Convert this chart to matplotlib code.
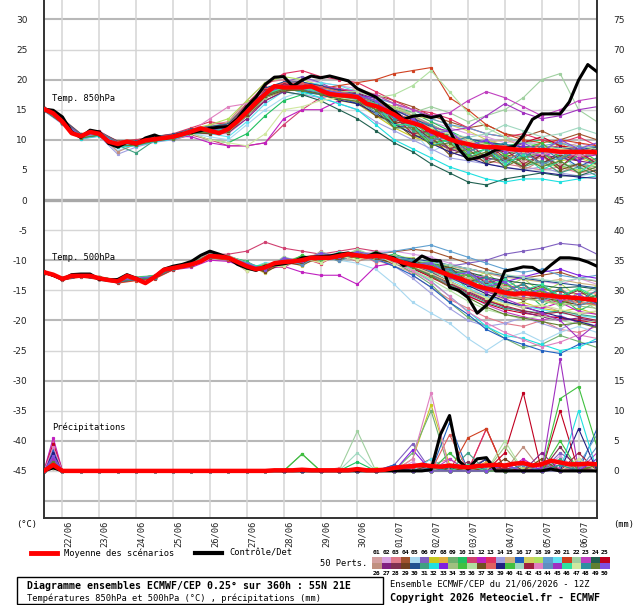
import matplotlib
matplotlib.use("Agg")
import matplotlib.pyplot as plt
import matplotlib.transforms as mtrans
from matplotlib.patches import Rectangle
from matplotlib.lines import Line2D

W, H = 640, 605

# ---------------- data ----------------
hours6 = list(range(0, 361, 6))
hours12 = list(range(0, 361, 12))
p_hours = [0, 6] + list(range(12, 361, 12))

day_hours = [12, 36, 60, 84, 108, 132, 156, 180, 204, 228, 252, 276, 300, 324, 348]
day_labels = ["22/06", "23/06", "24/06", "25/06", "26/06", "27/06", "28/06", "29/06",
              "30/06", "01/07", "02/07", "03/07", "04/07", "05/07", "06/07"]

t850_mean = [15.1, 14.4, 13.0, 11.1, 10.6, 11.3, 11.0, 9.7, 9.3, 9.7, 9.4, 9.9, 10.1, 10.3, 10.5,
             10.9, 11.4, 11.9, 11.5, 11.1, 11.8, 13.1, 14.6, 16.2, 17.6, 18.9, 18.7, 18.7, 18.7,
             18.9, 18.2, 17.6, 17.4, 17.3, 17.1, 16.0, 15.6, 14.9, 14.2, 13.2, 12.8, 12.3, 11.4,
             10.8, 10.1, 9.6, 9.3, 8.9, 8.8, 8.8, 8.6, 8.4, 8.3, 8.3, 8.3, 8.2, 8.0, 8.0, 8.0,
             8.0, 7.9]
t850_ctrl = [15.1, 14.9, 13.8, 11.3, 10.4, 11.6, 11.3, 9.4, 8.8, 9.6, 9.3, 10.3, 10.8, 10.2, 10.6,
             11.0, 11.2, 11.5, 11.9, 12.1, 12.2, 13.5, 15.5, 17.1, 19.2, 20.4, 20.5, 18.9, 19.9,
             20.6, 20.3, 20.6, 20.2, 19.8, 18.5, 17.8, 17.1, 15.9, 14.7, 13.4, 13.9, 14.1, 13.7,
             14.0, 11.6, 8.5, 6.7, 7.0, 7.5, 8.3, 8.6, 8.9, 10.7, 13.4, 14.3, 14.3, 14.3, 16.3,
             19.9, 22.5, 21.3]
t500_mean = [-12.0, -12.4, -13.1, -12.6, -12.6, -12.6, -13.0, -13.3, -13.5, -12.6, -13.1, -13.8,
             -12.8, -11.6, -11.3, -11.0, -10.7, -10.2, -9.3, -9.4, -9.6, -10.3, -11.0, -11.5,
             -11.2, -10.5, -10.3, -10.2, -10.0, -9.6, -9.6, -9.6, -9.3, -9.0, -9.2, -9.4, -9.3,
             -9.4, -9.9, -10.4, -10.8, -11.0, -11.3, -11.9, -12.5, -13.0, -13.6, -14.3, -14.7,
             -15.0, -15.4, -15.6, -15.5, -15.6, -15.8, -15.9, -16.1, -16.2, -16.3, -16.5, -16.6]
t500_ctrl = [-12.0, -12.5, -13.2, -12.4, -12.3, -12.3, -13.2, -13.3, -13.2, -12.4, -13.0, -13.8,
             -12.8, -11.5, -11.0, -10.7, -10.2, -9.2, -8.5, -9.0, -9.6, -10.7, -11.3, -11.7,
             -11.0, -10.8, -10.6, -10.3, -9.6, -9.5, -9.4, -9.3, -9.0, -8.8, -9.2, -9.4, -8.8,
             -9.3, -9.6, -10.9, -10.5, -9.3, -10.0, -10.1, -14.5, -15.0, -16.2, -18.8, -17.5,
             -15.5, -11.8, -11.5, -11.1, -11.2, -12.1, -10.8, -9.6, -9.6, -9.8, -10.3, -11.0]
pr_mean = [0, 1.0, 0, 0, 0, 0, 0, 0, 0, 0, 0, 0, 0, 0, 0, 0, 0, 0, 0, 0, 0, 0, 0, 0, 0, 0.1,
           0.1, 0.1, 0.2, 0.1, 0.1, 0.1, 0.1, 0.1, 0.3, 0.1, 0.1, 0.2, 0.5, 0.7, 0.8, 1.0, 0.8,
           0.7, 0.9, 0.7, 0.6, 0.8, 0.9, 1.0, 0.9, 1.2, 1.3, 0.9, 1.1, 1.7, 1.4, 1.1, 1.1, 1.2, 1.1]
pr_ctrl = [0, 0.5, 0, 0, 0, 0, 0, 0, 0, 0, 0, 0, 0, 0, 0, 0, 0, 0, 0, 0, 0, 0, 0, 0, 0, 0,
           0, 0, 0, 0, 0, 0, 0, 0, 0, 0, 0, 0, 0, 0, 0, 0, 0.2, 6.0, 9.2, 1.7, 0.3, 2.0, 2.2,
           0, 0, 0, 0, 0, 0, 0.3, 0, 0, 0, 0, 0]

t850_members = [
    [15.0, 13.2, 10.4, 11.2, 9.0, 9.6, 10.3, 10.8, 11.0, 12.0, 12.5, 15.5, 18.5, 19.5, 19.0, 18.0, 17.5, 16.0, 14.0, 12.5, 11.0, 10.0, 9.0, 8.5, 7.5, 7.0, 6.5, 7.0, 6.0, 5.5, 6.5],
    [15.2, 12.8, 10.8, 11.5, 9.5, 9.2, 10.0, 10.6, 11.8, 11.0, 11.0, 13.5, 17.0, 19.0, 20.0, 19.5, 19.0, 18.5, 17.0, 16.0, 14.5, 13.0, 12.0, 11.0, 10.5, 9.5, 10.0, 9.0, 8.5, 9.5, 8.5],
    [14.8, 13.0, 10.2, 10.8, 9.0, 9.0, 9.8, 10.2, 11.2, 12.5, 13.0, 16.5, 19.5, 20.0, 19.5, 18.5, 18.0, 17.5, 15.0, 13.0, 11.5, 9.5, 8.0, 7.0, 6.5, 6.0, 5.5, 5.0, 5.5, 4.5, 5.0],
    [15.3, 13.5, 11.0, 11.3, 9.8, 10.0, 10.5, 10.9, 11.5, 11.5, 12.0, 14.0, 16.5, 18.0, 18.5, 19.0, 18.5, 18.0, 17.5, 16.5, 15.5, 14.0, 13.0, 12.0, 12.5, 11.0, 10.5, 11.5, 10.0, 11.0, 10.0],
    [14.9, 12.7, 10.5, 10.9, 8.2, 9.3, 10.2, 10.4, 11.0, 10.5, 10.0, 12.5, 15.0, 17.0, 18.0, 18.5, 17.0, 16.5, 14.5, 12.0, 11.5, 8.0, 9.5, 6.5, 8.0, 6.0, 8.5, 5.5, 7.5, 5.0, 7.0],
    [15.1, 13.1, 10.7, 11.1, 9.4, 9.7, 10.0, 10.3, 11.3, 11.8, 12.2, 15.0, 18.0, 19.5, 20.5, 19.5, 18.0, 17.5, 16.5, 15.0, 13.5, 12.5, 11.0, 10.0, 9.5, 9.0, 8.0, 8.5, 8.0, 7.0, 8.0],
    [15.0, 13.0, 10.9, 10.7, 9.1, 9.5, 10.4, 10.7, 11.6, 11.3, 11.5, 14.0, 17.5, 18.5, 18.0, 17.5, 16.5, 16.0, 14.0, 12.0, 10.5, 9.5, 8.5, 8.0, 7.5, 7.5, 7.0, 7.5, 6.5, 7.0, 6.0],
    [15.2, 12.9, 10.3, 11.2, 9.6, 9.0, 9.7, 10.5, 11.4, 11.7, 11.8, 14.5, 17.0, 18.5, 19.0, 18.0, 17.0, 17.5, 16.0, 13.5, 14.0, 10.0, 11.5, 8.0, 9.5, 6.5, 9.0, 7.0, 9.5, 7.5, 8.5],
    [15.0, 13.3, 10.6, 11.0, 9.2, 9.8, 10.6, 10.9, 11.7, 12.2, 12.8, 16.0, 18.5, 19.0, 19.5, 19.0, 18.0, 16.5, 15.5, 13.5, 12.0, 10.5, 9.5, 8.0, 7.5, 6.5, 6.0, 6.5, 5.5, 6.0, 5.5],
    [14.9, 12.8, 10.4, 10.8, 9.0, 9.1, 9.9, 10.1, 11.0, 10.0, 9.5, 11.0, 14.0, 16.5, 17.5, 18.0, 17.5, 17.0, 16.5, 15.5, 14.5, 13.0, 11.5, 10.0, 9.5, 9.0, 9.5, 10.0, 9.0, 8.0, 8.5],
    [15.1, 13.0, 10.5, 11.0, 9.3, 9.4, 10.0, 10.0, 10.8, 10.0, 9.0, 9.0, 9.5, 12.5, 15.0, 17.0, 17.5, 17.0, 16.0, 14.0, 12.0, 11.0, 10.0, 9.5, 9.0, 8.5, 8.0, 8.5, 9.0, 8.0, 8.5],
    [15.0, 13.1, 10.7, 11.1, 9.1, 9.3, 10.2, 10.6, 10.5, 9.5, 9.0, 9.0, 9.5, 13.5, 15.0, 15.0, 16.5, 17.0, 16.0, 15.0, 14.0, 12.5, 11.0, 10.0, 9.0, 8.5, 8.0, 7.5, 8.0, 7.0, 7.5],
    [15.2, 13.2, 10.8, 11.4, 9.7, 10.0, 10.5, 11.0, 12.0, 13.0, 12.5, 16.0, 19.0, 21.0, 21.5, 20.5, 20.0, 19.5, 18.0, 16.5, 15.0, 14.5, 13.5, 12.0, 11.0, 10.5, 11.0, 10.0, 9.5, 10.5, 9.0],
    [14.8, 12.6, 10.1, 10.6, 7.6, 8.8, 9.6, 10.0, 11.0, 11.0, 11.5, 14.0, 17.5, 18.0, 17.5, 17.0, 16.0, 15.0, 13.0, 11.5, 10.0, 8.5, 7.0, 6.5, 6.0, 5.5, 5.0, 5.5, 4.5, 4.0, 4.5],
    [15.0, 13.0, 10.6, 11.2, 9.3, 9.6, 10.2, 10.6, 11.6, 12.0, 12.5, 15.5, 18.5, 19.5, 19.0, 18.5, 18.0, 18.5, 17.5, 16.0, 14.0, 12.0, 10.5, 9.5, 9.5, 10.0, 9.0, 8.5, 9.5, 9.0, 8.0],
    [15.1, 13.4, 10.9, 11.0, 9.5, 9.4, 10.3, 10.7, 11.3, 11.6, 12.0, 15.0, 17.5, 18.5, 18.0, 17.5, 17.0, 16.0, 15.5, 12.0, 12.5, 9.0, 10.0, 7.5, 8.5, 5.5, 8.0, 6.0, 7.5, 5.5, 7.0],
    [15.0, 12.9, 10.4, 10.9, 9.2, 9.3, 10.1, 10.4, 11.2, 11.4, 11.6, 14.5, 17.0, 18.0, 18.5, 18.0, 17.5, 17.0, 16.5, 15.5, 14.0, 13.5, 12.5, 11.5, 10.0, 9.0, 8.5, 9.0, 8.5, 8.0, 9.0],
    [15.2, 13.1, 10.7, 11.3, 9.6, 9.8, 10.5, 10.8, 11.8, 12.5, 13.5, 16.5, 19.5, 20.5, 20.0, 19.0, 17.5, 16.5, 14.5, 12.5, 11.0, 10.0, 9.0, 8.0, 7.0, 6.5, 6.0, 6.0, 5.5, 5.0, 6.0],
    [14.9, 12.8, 10.3, 10.8, 9.0, 9.2, 9.9, 10.3, 11.1, 11.2, 11.4, 14.0, 17.0, 18.5, 18.5, 17.5, 17.0, 17.5, 17.0, 16.0, 15.0, 13.5, 12.5, 12.0, 11.0, 10.5, 9.5, 9.0, 9.5, 8.5, 9.0],
    [15.1, 13.0, 10.6, 11.1, 9.4, 9.5, 10.2, 10.6, 11.5, 11.0, 10.5, 13.0, 16.0, 18.0, 19.0, 19.5, 19.0, 18.0, 16.0, 14.0, 12.5, 11.0, 10.0, 9.0, 8.5, 8.0, 7.5, 8.0, 7.5, 8.5, 8.0],
    [15.0, 13.1, 10.6, 11.0, 9.5, 9.5, 10.3, 10.6, 11.5, 11.8, 12.5, 15.5, 18.5, 19.5, 19.0, 18.5, 19.0, 19.5, 20.0, 21.0, 21.5, 22.0, 17.0, 15.0, 12.5, 11.0, 10.0, 9.5, 10.0, 9.5, 9.0],
    [15.1, 12.9, 10.5, 11.1, 9.3, 9.4, 10.1, 10.4, 11.2, 11.5, 12.0, 14.5, 17.5, 18.5, 18.5, 18.0, 17.5, 17.0, 16.0, 15.0, 14.5, 15.5, 14.5, 13.0, 14.0, 15.0, 17.0, 20.0, 21.0, 15.0, 13.0],
    [15.2, 13.2, 10.8, 11.2, 9.6, 9.7, 10.4, 10.8, 11.6, 12.0, 12.5, 15.0, 18.0, 19.0, 19.5, 19.0, 18.5, 18.0, 17.5, 16.0, 15.0, 14.0, 14.5, 16.5, 18.0, 17.0, 15.5, 14.0, 15.0, 16.5, 17.0],
    [14.9, 12.8, 10.3, 10.7, 9.0, 9.2, 9.8, 10.2, 11.0, 11.3, 11.6, 14.5, 17.5, 18.0, 17.5, 16.5, 15.0, 13.5, 11.5, 9.5, 8.0, 6.0, 4.5, 3.0, 2.5, 3.5, 4.0, 4.5, 4.0, 4.0, 5.0],
    [15.1, 13.0, 10.6, 11.0, 9.3, 9.4, 10.1, 10.5, 11.5, 11.9, 12.3, 15.2, 18.2, 19.3, 19.3, 18.8, 18.3, 17.8, 16.2, 14.5, 13.2, 12.0, 10.5, 9.2, 8.5, 8.0, 9.5, 10.5, 9.0, 8.5, 8.0],
    [15.0, 12.9, 10.4, 10.9, 8.0, 9.3, 10.0, 10.4, 11.3, 11.6, 11.9, 14.8, 17.8, 18.8, 18.5, 17.8, 17.0, 16.5, 15.0, 14.0, 11.0, 11.5, 8.0, 9.0, 6.5, 7.5, 5.0, 6.5, 4.5, 6.0, 5.0],
    [15.2, 13.1, 10.7, 11.1, 9.4, 9.6, 10.2, 10.7, 11.5, 11.4, 11.2, 13.5, 16.5, 18.0, 18.8, 18.5, 17.5, 17.8, 16.8, 15.0, 12.5, 10.0, 8.5, 7.5, 7.0, 6.5, 7.0, 7.5, 7.0, 6.5, 6.0],
    [15.1, 13.0, 10.5, 11.0, 9.2, 9.4, 10.1, 10.5, 11.4, 11.6, 12.0, 15.0, 18.0, 19.0, 18.8, 18.3, 17.6, 17.2, 16.5, 13.0, 14.0, 10.5, 11.0, 8.0, 9.5, 7.0, 8.5, 6.0, 8.0, 6.5, 9.0],
    [15.0, 12.8, 10.3, 10.8, 9.0, 9.1, 9.9, 10.3, 11.2, 11.0, 11.2, 14.0, 17.0, 18.2, 18.6, 18.2, 17.2, 16.8, 15.5, 13.0, 12.5, 10.0, 10.5, 8.0, 9.0, 6.5, 8.0, 6.0, 7.5, 6.5, 8.5],
    [15.3, 13.3, 10.9, 11.3, 9.7, 9.8, 10.5, 10.9, 11.8, 12.2, 12.6, 15.6, 18.6, 19.6, 19.6, 19.0, 18.2, 17.6, 16.2, 15.0, 13.6, 12.2, 11.0, 10.2, 9.6, 9.2, 8.8, 9.0, 8.6, 8.4, 8.8],
    [14.9, 12.9, 10.4, 10.8, 9.1, 7.8, 9.9, 10.2, 11.1, 11.3, 11.5, 14.2, 17.2, 18.4, 18.4, 17.8, 17.2, 16.8, 14.5, 14.5, 11.5, 11.0, 8.5, 9.0, 6.5, 7.5, 5.5, 6.5, 4.5, 5.5, 4.0],
    [15.0, 12.8, 10.2, 10.6, 8.8, 9.0, 9.7, 10.1, 11.0, 11.4, 11.8, 14.5, 17.5, 18.5, 18.0, 17.0, 16.0, 15.0, 12.5, 10.0, 8.5, 7.0, 5.5, 4.5, 3.5, 3.0, 3.5, 3.5, 3.0, 3.5, 4.0],
    [15.1, 13.0, 10.6, 11.1, 9.3, 9.5, 10.2, 10.6, 11.5, 11.8, 12.2, 15.0, 18.0, 19.2, 19.0, 18.4, 17.8, 17.3, 17.0, 13.5, 13.5, 11.0, 11.5, 8.5, 10.0, 7.5, 9.0, 7.0, 8.5, 6.5, 8.0],
    [15.2, 13.1, 10.7, 11.2, 9.5, 9.6, 10.3, 10.7, 11.6, 11.5, 11.3, 14.0, 17.0, 18.2, 18.4, 18.0, 17.6, 17.4, 16.4, 15.2, 14.0, 12.6, 11.0, 10.0, 9.2, 8.8, 8.4, 8.2, 7.8, 7.6, 8.0],
    [15.0, 12.9, 10.5, 10.9, 9.2, 9.3, 10.0, 10.4, 11.3, 11.6, 12.0, 14.8, 17.8, 18.8, 18.6, 18.0, 17.2, 16.8, 15.5, 12.5, 12.5, 9.5, 10.0, 7.5, 8.5, 6.5, 7.0, 8.0, 5.5, 7.5, 6.0],
    [15.1, 13.0, 10.6, 11.0, 9.3, 9.4, 10.1, 10.5, 11.4, 11.7, 12.0, 15.0, 18.0, 19.0, 19.0, 18.5, 18.0, 18.0, 17.0, 17.5, 19.0, 21.5, 18.0, 14.5, 12.0, 10.5, 9.5, 9.0, 8.5, 9.0, 8.5],
    [15.0, 12.8, 10.4, 10.8, 9.0, 9.2, 9.9, 10.3, 11.2, 11.3, 11.5, 14.2, 17.2, 18.2, 18.2, 17.6, 16.8, 16.4, 14.0, 13.0, 10.5, 10.5, 7.5, 8.5, 6.0, 7.0, 5.5, 7.5, 5.0, 6.0, 4.5],
    [15.2, 13.2, 10.8, 11.2, 9.6, 9.7, 10.4, 10.8, 11.7, 12.0, 12.4, 15.4, 18.4, 19.4, 19.4, 18.8, 18.0, 17.4, 16.5, 14.5, 12.5, 12.0, 10.0, 10.5, 8.5, 9.0, 7.5, 9.5, 7.0, 7.5, 6.5],
    [15.0, 12.9, 10.4, 10.9, 9.1, 9.3, 10.0, 10.4, 11.3, 11.4, 11.6, 14.6, 17.6, 18.6, 18.4, 17.6, 16.6, 16.0, 14.4, 12.6, 11.0, 9.4, 8.0, 7.0, 6.0, 5.4, 5.0, 4.6, 4.2, 3.8, 3.6],
    [15.1, 13.1, 10.6, 11.0, 9.4, 9.5, 10.2, 10.6, 11.4, 11.6, 11.9, 14.8, 17.8, 18.8, 18.8, 18.2, 17.4, 17.0, 16.0, 13.5, 13.0, 10.5, 11.0, 8.5, 9.5, 7.5, 8.5, 9.5, 7.0, 8.5, 6.5],
    [15.0, 13.0, 10.5, 11.0, 9.2, 9.4, 10.1, 10.5, 11.3, 11.5, 11.8, 14.6, 17.6, 18.6, 18.6, 18.0, 17.4, 17.0, 15.6, 14.2, 13.0, 12.0, 11.0, 10.4, 11.0, 12.5, 11.5, 10.5, 11.0, 12.0, 11.0],
    [15.2, 13.1, 10.7, 11.1, 9.5, 9.6, 10.3, 10.7, 11.6, 11.9, 12.2, 15.2, 18.2, 19.2, 19.0, 18.4, 17.6, 17.0, 15.0, 14.0, 11.0, 11.5, 8.5, 9.5, 7.0, 8.5, 6.0, 7.5, 5.5, 8.0, 6.0],
    [15.1, 13.0, 10.6, 11.1, 9.4, 9.5, 10.2, 10.6, 11.5, 13.5, 15.5, 16.0, 18.0, 19.0, 18.8, 18.2, 17.6, 17.2, 15.8, 14.2, 12.8, 11.4, 10.2, 9.4, 8.6, 8.2, 7.8, 7.6, 7.8, 7.4, 7.6],
    [14.9, 12.9, 10.4, 10.8, 9.1, 9.2, 9.9, 10.3, 11.2, 11.4, 11.7, 14.4, 17.4, 18.4, 18.4, 17.8, 17.0, 16.6, 14.5, 14.0, 12.0, 10.0, 10.5, 8.0, 9.0, 6.5, 8.0, 6.0, 7.0, 9.0, 7.5],
    [15.1, 13.0, 10.6, 11.0, 9.3, 9.4, 10.1, 10.5, 11.4, 11.6, 11.9, 14.8, 17.8, 18.8, 18.8, 18.2, 17.6, 17.2, 15.8, 14.4, 13.0, 12.0, 11.5, 12.0, 14.0, 16.0, 14.5, 13.5, 14.0, 15.0, 15.5],
    [15.0, 12.9, 10.5, 10.9, 9.2, 9.3, 10.0, 10.4, 11.3, 11.5, 11.8, 14.6, 17.6, 18.6, 18.6, 18.0, 17.2, 16.8, 16.0, 12.5, 12.5, 9.0, 10.0, 7.0, 8.5, 6.0, 7.5, 5.0, 6.5, 4.5, 6.5],
    [15.1, 13.0, 10.6, 11.0, 9.3, 9.4, 10.1, 10.5, 11.0, 10.0, 9.5, 9.0, 11.0, 15.0, 15.5, 16.5, 17.0, 16.5, 15.5, 14.5, 13.0, 12.0, 11.0, 10.0, 9.2, 8.6, 8.2, 8.0, 8.4, 8.0, 8.2],
    [15.2, 13.1, 10.7, 11.2, 9.5, 9.6, 10.3, 10.7, 11.6, 11.8, 12.1, 15.0, 18.0, 19.0, 19.0, 18.4, 17.8, 17.4, 16.5, 13.5, 13.0, 12.5, 9.5, 10.5, 8.5, 9.5, 7.0, 9.0, 6.5, 8.5, 7.5],
    [15.0, 12.8, 10.3, 10.8, 9.0, 9.1, 9.8, 10.2, 11.1, 11.3, 11.6, 14.4, 17.4, 18.4, 18.2, 17.6, 16.8, 16.4, 15.0, 12.0, 12.0, 9.0, 9.5, 7.0, 8.0, 5.5, 7.0, 5.5, 6.5, 4.5, 5.5],
    [15.1, 13.0, 10.6, 11.0, 9.3, 9.4, 10.1, 10.5, 11.4, 11.7, 12.1, 15.0, 18.0, 19.0, 19.0, 18.4, 17.8, 17.4, 16.5, 14.0, 13.5, 11.0, 11.5, 9.0, 10.0, 8.0, 9.5, 8.0, 10.0, 8.5, 9.5],
]

t500_members = [
    [-12.0, -13.2, -12.5, -13.2, -13.8, -13.0, -12.5, -11.0, -10.5, -9.0, -9.5, -11.0, -11.5, -10.0, -9.5, -9.0, -9.0, -9.5, -10.0, -11.0, -12.0, -13.0, -14.0, -15.0, -16.0, -17.0, -18.0, -17.5, -18.5, -19.0, -18.5],
    [-11.8, -13.0, -12.8, -13.0, -13.4, -13.2, -13.0, -11.5, -11.0, -9.5, -9.8, -10.8, -11.0, -10.5, -10.2, -9.8, -9.5, -9.0, -8.5, -8.5, -9.0, -9.5, -10.5, -11.5, -12.0, -13.0, -12.5, -13.5, -14.0, -13.0, -14.0],
    [-12.1, -13.1, -12.6, -12.8, -13.6, -13.3, -12.6, -11.2, -10.4, -8.8, -9.2, -10.5, -12.0, -9.5, -10.8, -8.5, -9.8, -8.6, -10.4, -9.6, -12.5, -14.5, -16.5, -18.0, -19.5, -20.5, -21.0, -20.0, -21.5, -22.0, -21.0],
    [-12.0, -12.9, -12.4, -13.1, -13.4, -12.9, -12.7, -11.4, -10.8, -9.6, -10.0, -11.4, -11.8, -10.6, -10.4, -10.0, -9.6, -9.4, -9.0, -8.6, -8.2, -8.5, -9.5, -10.5, -11.5, -12.5, -13.0, -12.5, -12.0, -13.0, -13.5],
    [-12.0, -13.0, -12.6, -13.0, -13.4, -13.0, -12.8, -11.3, -10.7, -9.4, -9.7, -11.1, -11.3, -10.4, -10.1, -9.8, -10.0, -10.5, -11.5, -14.0, -17.0, -18.8, -20.5, -23.0, -25.0, -23.0, -22.0, -23.5, -22.0, -21.0, -22.0],
    [-12.0, -13.1, -12.6, -13.0, -13.6, -13.2, -12.8, -11.3, -10.6, -9.4, -9.6, -10.9, -11.1, -10.2, -9.9, -9.5, -9.2, -9.1, -9.0, -9.5, -10.0, -10.5, -11.0, -10.5, -10.0, -9.0, -8.5, -8.0, -7.2, -7.5, -9.0],
    [-12.1, -13.2, -12.7, -13.1, -13.6, -13.2, -12.9, -11.4, -10.8, -9.4, -9.7, -11.6, -10.6, -11.0, -9.2, -10.4, -8.6, -9.8, -8.8, -10.6, -11.0, -12.0, -13.5, -15.0, -16.5, -17.5, -17.0, -18.0, -18.5, -18.0, -19.0],
    [-11.9, -13.0, -12.5, -12.9, -13.4, -13.0, -12.7, -11.2, -10.6, -9.2, -9.5, -10.9, -11.1, -10.2, -9.9, -9.5, -9.2, -9.1, -9.2, -9.6, -10.2, -12.0, -11.0, -14.0, -12.8, -15.6, -13.8, -16.4, -14.6, -17.0, -15.6],
    [-12.0, -13.1, -12.6, -13.0, -13.5, -13.1, -12.8, -11.3, -10.7, -9.3, -9.6, -11.0, -11.2, -10.3, -10.0, -9.6, -9.3, -9.2, -9.5, -10.5, -12.0, -14.0, -17.0, -19.5, -21.0, -23.0, -24.5, -24.0, -22.5, -23.5, -24.5],
    [-12.0, -13.0, -12.4, -12.8, -13.3, -12.9, -12.6, -11.1, -10.5, -9.1, -9.4, -10.2, -11.8, -9.6, -10.6, -8.8, -9.9, -8.4, -9.6, -9.0, -10.0, -12.4, -12.0, -14.8, -13.6, -16.4, -15.0, -17.6, -16.0, -18.4, -17.0],
    [-12.0, -13.1, -12.6, -13.0, -13.5, -13.1, -12.8, -11.3, -10.5, -9.0, -9.0, -8.5, -7.0, -8.0, -8.5, -9.0, -8.5, -8.0, -8.5, -9.5, -10.5, -11.5, -12.5, -14.0, -15.0, -16.0, -15.5, -16.5, -17.0, -16.5, -17.0],
    [-12.0, -13.1, -12.6, -13.0, -13.5, -13.1, -12.9, -11.6, -11.2, -10.0, -10.2, -11.3, -11.5, -11.0, -12.0, -12.5, -12.5, -14.0, -11.0, -10.5, -11.5, -12.5, -13.5, -15.0, -16.0, -17.0, -17.5, -18.0, -17.0, -18.5, -19.0],
    [-12.1, -13.2, -12.7, -13.1, -13.6, -13.2, -12.9, -11.4, -10.8, -9.4, -9.7, -11.8, -10.8, -11.2, -9.6, -10.6, -9.0, -10.2, -8.8, -10.4, -10.6, -11.0, -11.8, -12.6, -13.4, -14.2, -14.6, -14.8, -15.2, -15.6, -15.4],
    [-12.0, -13.0, -12.5, -12.9, -13.4, -13.0, -12.7, -11.2, -10.6, -9.2, -9.5, -10.9, -11.1, -10.2, -9.9, -9.5, -9.2, -9.1, -9.5, -11.0, -13.0, -15.5, -18.0, -20.0, -21.0, -20.5, -19.5, -20.5, -21.5, -20.0, -21.0],
    [-12.0, -13.1, -12.6, -13.0, -13.5, -13.1, -12.8, -11.3, -10.7, -9.3, -9.6, -11.0, -11.2, -10.3, -10.0, -9.6, -9.3, -9.2, -9.3, -9.6, -10.0, -10.4, -11.0, -11.6, -12.2, -12.8, -13.2, -13.6, -13.2, -13.8, -14.2],
    [-12.0, -13.0, -12.6, -13.0, -13.4, -13.0, -12.8, -11.3, -10.7, -9.3, -9.6, -11.0, -11.2, -10.3, -10.0, -9.6, -9.3, -9.3, -9.8, -11.0, -12.5, -14.5, -17.0, -19.0, -21.5, -23.0, -24.0, -25.0, -25.5, -24.0, -23.5],
    [-12.1, -13.2, -12.7, -13.1, -13.7, -13.3, -13.0, -11.5, -10.9, -9.5, -9.8, -10.6, -12.2, -10.0, -11.0, -9.0, -10.2, -8.8, -10.0, -9.6, -11.2, -12.2, -13.6, -14.8, -15.8, -16.4, -16.2, -16.8, -17.4, -17.0, -17.6],
    [-11.9, -12.9, -12.4, -12.8, -13.3, -12.9, -12.6, -11.1, -10.5, -9.1, -9.4, -10.8, -11.0, -10.1, -9.8, -9.4, -9.1, -9.0, -9.0, -9.4, -9.6, -11.4, -10.8, -13.2, -12.0, -14.6, -13.0, -15.4, -13.8, -16.2, -14.2],
    [-12.0, -13.1, -12.6, -13.0, -13.5, -13.1, -12.8, -11.3, -10.7, -9.3, -9.6, -11.0, -11.2, -10.3, -10.0, -9.6, -9.3, -9.2, -9.0, -8.5, -8.0, -7.5, -8.5, -9.5, -10.5, -11.5, -12.0, -11.5, -12.5, -13.0, -12.5],
    [-12.0, -13.0, -12.5, -12.9, -13.4, -13.0, -12.7, -11.2, -10.6, -9.2, -9.5, -11.6, -10.4, -10.8, -9.2, -10.2, -8.6, -9.6, -9.0, -10.4, -10.8, -11.8, -13.2, -14.6, -16.0, -17.0, -17.6, -18.2, -18.8, -19.2, -19.6],
    [-12.1, -13.3, -12.8, -13.2, -13.8, -13.4, -13.1, -11.6, -11.0, -9.6, -9.9, -11.3, -11.5, -10.6, -10.3, -9.9, -9.6, -9.5, -9.6, -10.0, -10.4, -11.0, -12.0, -13.0, -14.0, -15.0, -15.6, -15.2, -15.8, -16.4, -16.0],
    [-11.9, -12.9, -12.4, -12.8, -13.2, -12.8, -12.5, -11.0, -10.4, -9.0, -9.3, -10.4, -11.6, -9.4, -10.4, -8.6, -9.6, -8.2, -9.4, -9.2, -11.0, -10.8, -13.2, -12.8, -15.2, -14.4, -16.8, -15.6, -17.8, -16.4, -18.2],
    [-12.0, -13.1, -12.6, -13.0, -13.5, -13.1, -12.8, -11.3, -10.7, -9.3, -9.6, -11.0, -11.2, -10.3, -10.0, -9.6, -9.3, -9.2, -9.3, -10.2, -11.4, -12.6, -14.2, -15.8, -17.4, -18.6, -19.4, -20.0, -19.2, -20.4, -21.0],
    [-12.0, -13.0, -12.5, -12.9, -13.4, -13.0, -12.7, -11.2, -10.6, -9.2, -9.5, -10.9, -11.1, -10.2, -9.9, -9.5, -9.2, -9.1, -9.2, -9.5, -10.0, -10.5, -11.2, -12.0, -12.8, -13.4, -13.8, -14.2, -14.6, -14.4, -14.8],
    [-12.1, -13.2, -12.7, -13.1, -13.6, -13.2, -12.9, -11.4, -10.8, -9.4, -9.7, -11.1, -11.3, -10.4, -10.1, -9.7, -9.4, -9.3, -9.4, -10.2, -11.4, -12.8, -14.4, -16.0, -17.2, -18.2, -18.8, -19.2, -19.6, -20.0, -20.4],
    [-12.0, -13.1, -12.6, -13.0, -13.5, -13.1, -12.8, -11.3, -10.7, -9.3, -9.6, -11.4, -11.0, -11.0, -9.4, -10.0, -9.0, -10.2, -9.4, -9.6, -10.0, -11.8, -11.2, -13.4, -12.6, -14.8, -14.0, -16.2, -14.8, -16.8, -15.8],
    [-12.0, -13.0, -12.5, -12.9, -13.4, -13.0, -12.7, -11.2, -10.6, -9.2, -9.5, -10.9, -11.1, -10.2, -9.9, -9.5, -9.2, -9.1, -9.2, -9.8, -10.8, -12.0, -13.6, -15.2, -16.6, -17.8, -18.6, -19.4, -20.0, -19.6, -20.2],
    [-11.9, -12.9, -12.4, -12.8, -13.3, -12.9, -12.6, -11.1, -10.5, -9.1, -9.4, -10.8, -11.0, -10.1, -9.8, -9.4, -9.1, -9.0, -9.1, -9.6, -10.8, -10.4, -12.2, -11.8, -13.8, -13.0, -15.2, -14.2, -16.2, -15.0, -17.0],
    [-12.1, -13.2, -12.7, -13.1, -13.6, -13.2, -12.9, -11.4, -10.8, -9.4, -9.7, -10.8, -12.0, -10.4, -10.8, -9.4, -10.0, -9.0, -9.8, -10.4, -10.6, -11.4, -12.6, -13.8, -15.2, -16.0, -16.6, -16.2, -16.8, -17.4, -17.0],
    [-12.0, -13.0, -12.6, -13.0, -13.4, -13.0, -12.8, -11.3, -10.7, -9.3, -9.6, -11.0, -11.2, -10.3, -10.0, -9.6, -9.3, -9.2, -9.3, -9.4, -9.8, -10.2, -10.8, -11.4, -12.0, -12.6, -13.0, -13.4, -13.8, -14.2, -14.6],
    [-12.0, -13.1, -12.6, -13.0, -13.5, -13.1, -12.8, -11.3, -10.7, -9.3, -9.6, -11.0, -11.2, -10.3, -10.0, -9.6, -9.3, -9.2, -9.3, -10.0, -11.2, -12.4, -14.0, -15.6, -17.0, -18.0, -18.4, -18.8, -18.4, -19.0, -19.4],
    [-12.0, -13.0, -12.5, -12.9, -13.4, -13.0, -12.7, -11.2, -10.6, -9.2, -9.5, -10.9, -11.1, -10.2, -9.9, -9.5, -9.2, -9.1, -9.2, -10.0, -11.5, -13.5, -16.0, -18.5, -21.0, -22.5, -23.0, -24.0, -25.0, -24.5, -23.0],
    [-12.1, -13.2, -12.7, -13.1, -13.6, -13.2, -12.9, -11.4, -10.8, -9.4, -9.7, -11.1, -11.3, -10.4, -10.1, -9.7, -9.4, -9.3, -9.4, -9.8, -10.2, -10.8, -11.6, -12.4, -13.0, -13.6, -12.8, -12.0, -11.5, -12.5, -13.0],
    [-12.0, -13.1, -12.6, -13.0, -13.5, -13.1, -12.8, -11.3, -10.7, -9.3, -9.6, -11.6, -10.6, -10.8, -9.6, -9.0, -9.6, -8.4, -9.8, -9.2, -10.8, -11.8, -13.0, -14.2, -15.2, -16.0, -16.4, -16.8, -17.2, -17.6, -18.0],
    [-11.9, -12.9, -12.4, -12.8, -13.3, -12.9, -12.6, -11.1, -10.5, -9.1, -9.4, -10.8, -11.0, -10.1, -9.8, -9.4, -9.1, -9.0, -9.1, -9.4, -10.4, -10.2, -12.0, -12.0, -14.4, -13.8, -16.0, -15.0, -17.2, -16.2, -17.4],
    [-12.0, -13.0, -12.6, -13.0, -13.4, -13.0, -12.8, -11.3, -10.7, -9.3, -9.6, -11.0, -11.2, -10.3, -10.0, -9.6, -9.3, -9.2, -9.3, -10.2, -11.6, -13.2, -15.0, -16.8, -18.2, -19.0, -19.8, -19.2, -20.0, -20.6, -20.0],
    [-12.1, -13.2, -12.7, -13.1, -13.6, -13.2, -12.9, -11.4, -10.8, -9.4, -9.7, -10.6, -11.8, -9.8, -10.6, -9.2, -9.8, -8.8, -9.6, -10.6, -9.8, -11.6, -11.2, -13.6, -12.8, -15.2, -14.0, -16.2, -15.0, -17.0, -15.8],
    [-12.0, -13.1, -12.6, -13.0, -13.5, -13.1, -12.8, -11.3, -10.7, -9.3, -9.6, -11.0, -11.2, -10.3, -10.0, -9.6, -9.3, -9.2, -9.3, -9.8, -10.6, -11.6, -12.8, -14.0, -15.0, -15.8, -16.2, -16.0, -16.6, -17.0, -17.4],
    [-12.0, -13.0, -12.5, -12.9, -13.4, -13.0, -12.7, -11.2, -10.6, -9.2, -9.5, -10.9, -11.1, -10.2, -9.9, -9.5, -9.2, -9.1, -9.2, -9.6, -10.4, -11.4, -12.8, -14.2, -15.6, -16.8, -17.8, -18.6, -19.4, -20.2, -21.0],
    [-11.9, -12.9, -12.4, -12.8, -13.3, -12.9, -12.6, -11.1, -10.5, -9.1, -9.4, -11.4, -10.8, -10.6, -9.2, -10.0, -8.8, -9.6, -8.6, -9.8, -10.6, -10.6, -12.8, -12.4, -14.8, -13.6, -15.8, -14.4, -16.0, -14.8, -16.6],
    [-12.0, -13.1, -12.6, -13.0, -13.5, -13.1, -12.8, -11.3, -10.7, -9.3, -9.6, -11.0, -11.2, -10.3, -10.0, -9.6, -9.3, -9.2, -9.3, -9.6, -10.0, -10.4, -10.8, -11.4, -12.0, -12.4, -12.8, -13.2, -13.6, -13.0, -13.4],
    [-12.1, -13.2, -12.7, -13.1, -13.6, -13.2, -12.9, -11.4, -10.8, -9.4, -9.7, -11.1, -11.3, -10.4, -10.1, -9.7, -9.4, -9.3, -9.4, -10.0, -11.0, -12.2, -13.8, -15.4, -16.8, -17.6, -18.4, -19.0, -18.6, -19.4, -20.0],
    [-12.0, -13.1, -12.6, -13.0, -13.5, -13.1, -12.8, -11.3, -10.7, -9.3, -9.6, -11.0, -11.2, -10.3, -10.0, -9.6, -9.3, -9.2, -9.3, -10.2, -11.8, -13.6, -16.0, -18.6, -20.4, -22.0, -23.2, -24.4, -23.6, -22.4, -23.0],
    [-12.0, -13.0, -12.5, -12.9, -13.4, -13.0, -12.7, -11.2, -10.6, -9.2, -9.5, -10.4, -11.4, -9.8, -10.8, -9.0, -10.2, -8.8, -10.2, -9.4, -10.0, -12.0, -11.6, -14.0, -13.4, -15.8, -14.6, -16.8, -15.6, -17.6, -16.4],
    [-12.0, -13.1, -12.6, -13.0, -13.5, -13.1, -12.8, -11.3, -10.7, -9.3, -9.6, -11.0, -11.2, -10.3, -10.0, -9.6, -9.3, -9.2, -9.3, -9.8, -10.6, -11.6, -12.8, -14.0, -15.2, -16.4, -17.6, -18.8, -20.0, -23.0, -20.5],
    [-11.9, -12.9, -12.4, -12.8, -13.3, -12.9, -12.6, -11.1, -10.5, -9.1, -9.4, -10.8, -11.0, -10.1, -9.8, -9.4, -9.1, -9.0, -9.1, -9.5, -10.8, -10.4, -12.4, -12.0, -14.2, -13.2, -15.0, -14.0, -16.0, -14.6, -16.2],
    [-12.0, -13.0, -12.6, -13.0, -13.4, -13.0, -12.8, -11.3, -10.7, -9.3, -9.6, -11.8, -11.0, -11.0, -9.8, -10.4, -9.2, -10.0, -9.0, -10.6, -11.0, -12.2, -13.6, -15.0, -16.2, -17.2, -17.8, -17.4, -18.2, -18.8, -18.4],
    [-12.1, -13.2, -12.7, -13.1, -13.6, -13.2, -12.9, -11.4, -10.8, -9.4, -9.7, -11.1, -11.3, -10.4, -10.1, -9.7, -9.4, -9.3, -9.4, -9.8, -10.0, -11.8, -11.4, -13.8, -12.8, -15.2, -14.0, -16.0, -14.8, -16.8, -15.0],
    [-12.0, -13.1, -12.6, -13.0, -13.5, -13.1, -12.8, -11.3, -10.7, -9.3, -9.6, -11.0, -11.2, -10.3, -10.0, -9.6, -9.3, -9.2, -9.3, -10.0, -11.2, -12.6, -14.4, -16.2, -17.8, -19.0, -19.6, -20.2, -20.8, -20.4, -21.2],
    [-12.0, -13.0, -12.5, -12.9, -13.4, -13.0, -12.7, -11.2, -10.6, -9.2, -9.5, -10.6, -11.6, -9.6, -10.2, -8.8, -9.4, -8.6, -9.2, -9.8, -10.8, -10.4, -12.6, -12.0, -14.4, -13.6, -15.8, -14.8, -16.8, -15.6, -17.4],
]

pr_members = [
    [0, 1.0, 0, 0, 0, 0, 0, 0, 0, 0, 0, 0, 0, 0, 0, 0, 0, 0, 0, 0, 0.5, 0, 1.0, 0, 0.5, 2.0, 0, 0.5, 1.0, 0, 0.5, 0.3],
    [0, 2.0, 0, 0, 0, 0, 0, 0, 0, 0, 0, 0, 0, 0, 0, 0, 0, 0, 0, 0, 0, 1.5, 0, 0.5, 0, 0, 1.0, 0, 0, 2.5, 0, 0.5],
    [0, 5.0, 0, 0, 0, 0, 0, 0, 0, 0, 0, 0, 0, 0, 0, 0, 0, 0.5, 0, 0, 0, 0, 1.0, 2.0, 0, 0, 0.5, 0, 1.5, 0, 1.0, 0],
    [0, 1.5, 0, 0, 0, 0, 0, 0, 0, 0, 0, 0, 0, 0, 0, 0, 0, 0, 0, 0, 0, 0.5, 2.0, 0, 0, 1.0, 0, 0, 0.5, 0, 0, 1.5],
    [0, 1.0, 0, 0, 0, 0, 0, 0, 0, 0, 0, 0, 0, 0, 0, 0, 0, 0, 0.5, 0, 0, 0, 0, 3.0, 0.5, 0, 0, 1.0, 0, 0.5, 0, 0],
    [0, 3.0, 0, 0, 0, 0, 0, 0, 0, 0, 0, 0, 0, 0, 0, 0, 0, 0, 0, 0, 1.0, 4.5, 0, 0, 0, 2.0, 0, 0.5, 0, 3.0, 1.0, 0.5],
    [0, 1.0, 0, 0, 0, 0, 0, 0, 0, 0, 0, 0, 0, 0, 0, 0, 0, 0, 0, 0, 0, 2.0, 11.0, 1.0, 0, 0, 0, 0, 0.5, 0, 0, 1.0],
    [0, 0.5, 0, 0, 0, 0, 0, 0, 0, 0, 0, 0, 0, 0, 0, 0, 0, 0, 0, 0, 0, 0, 0.5, 0, 0, 1.5, 0, 0, 0, 0, 2.0, 0],
    [0, 2.0, 0, 0, 0, 0, 0, 0, 0, 0, 0, 0, 0, 0, 0, 2.8, 0, 0, 0, 0, 0, 3.0, 10.0, 0, 0, 0, 0.5, 0, 0, 1.0, 0, 0],
    [0, 1.0, 0, 0, 0, 0, 0, 0, 0, 0, 0, 0, 0, 0, 0, 0, 0, 0, 1.5, 0, 0, 0, 0, 0, 1.0, 0, 0, 0.5, 0, 0, 0, 0.5],
    [0, 1.5, 0, 0, 0, 0, 0, 0, 0, 0, 0, 0, 0, 0, 0, 0, 0, 0, 0, 0, 0, 0, 1.0, 0, 0, 7.0, 0, 0, 1.0, 0, 0, 0],
    [0, 5.5, 0, 0, 0, 0, 0, 0, 0, 0, 0, 0, 0, 0, 0, 0, 0, 0, 0, 0, 0, 1.0, 0, 0.5, 0, 0, 0, 2.0, 0, 1.5, 0, 0],
    [0, 3.0, 0, 0, 0, 0, 0, 0, 0, 0, 0, 0, 0, 0, 0, 0, 0, 0, 0, 0, 0, 0.5, 0, 0, 0, 7.0, 0, 0, 0, 0, 0, 0.5],
    [0, 1.0, 0, 0, 0, 0, 0, 0, 0, 0, 0, 0, 0, 0, 0, 0, 0, 0, 0, 0, 0, 0, 0.5, 0, 0, 0, 1.0, 0, 0, 0, 1.5, 0],
    [0, 0.5, 0, 0, 0, 0, 0, 0, 0, 0, 0, 0, 0, 0, 0, 0, 0, 0, 0, 0, 0, 0, 0, 1.0, 0, 0, 0, 0, 0, 0.5, 0, 0],
    [0, 3.5, 0, 0, 0, 0, 0, 0, 0, 0, 0, 0, 0, 0, 0, 0, 0, 0, 0, 0, 1.0, 0, 0, 8.0, 0, 0, 0, 0, 0, 0, 0, 7.0],
    [0, 1.0, 0, 0, 0, 0, 0, 0, 0, 0, 0, 0, 0, 0, 0, 0, 0, 0, 0, 0, 0, 0, 0.5, 0, 1.0, 0, 0, 0.5, 0, 0, 0, 0],
    [0, 0.5, 0, 0, 0, 0, 0, 0, 0, 0, 0, 0, 0, 0, 0, 0, 0, 0, 0, 0.5, 0, 0, 0, 0, 0, 0, 0, 0, 2.0, 0, 0, 0],
    [0, 1.5, 0, 0, 0, 0, 0, 0, 0, 0, 0, 0, 0, 0, 0, 0, 0, 0, 0, 0, 0, 0, 0, 0, 0, 0.5, 0, 0, 0, 0, 1.0, 6.0],
    [0, 1.0, 0, 0, 0, 0, 0, 0, 0, 0, 0, 0, 0, 0, 0, 0, 0, 0, 0, 0, 0, 0, 2.0, 0, 0, 0, 0, 0, 0, 0, 0, 0],
    [0, 2.0, 0, 0, 0, 0, 0, 0, 0, 0, 0, 0, 0, 0, 0, 0, 0, 0, 0, 0, 0, 1.0, 0, 0, 5.5, 7.0, 0, 0, 0, 0, 0, 0],
    [0, 1.0, 0, 0, 0, 0, 0, 0, 0, 0, 0, 0, 0, 0, 0, 0, 0, 0, 6.6, 0, 0, 0, 0, 0, 0, 0, 0, 1.0, 0, 0, 0, 0],
    [0, 0.5, 0, 0, 0, 0, 0, 0, 0, 0, 0, 0, 0, 0, 0, 0, 0, 0, 0, 0, 0, 1.0, 0, 2.0, 0, 0, 1.0, 0, 0, 0.5, 0, 3.0],
    [0, 1.5, 0, 0, 0, 0, 0, 0, 0, 0, 0, 0, 0, 0, 0, 0, 0, 0, 0, 0, 0, 0, 0, 0.5, 0, 0, 0, 0, 0, 1.0, 0, 0],
    [0, 4.5, 0, 0, 0, 0, 0, 0, 0, 0, 0, 0, 0, 0, 0, 0, 0, 0, 0, 0, 0, 0, 0, 0, 0, 0, 3.0, 13.0, 0, 10.0, 0, 0],
    [0, 1.0, 0, 0, 0, 0, 0, 0, 0, 0, 0, 0, 0, 0, 0, 0, 0, 0, 0, 0, 0, 0, 1.0, 0, 0.5, 0, 0, 4.0, 0, 0, 1.0, 0.5],
    [0, 2.5, 0, 0, 0, 0, 0, 0, 0, 0, 0, 0, 0, 0, 0, 0, 0, 0, 0, 0, 0, 0, 0, 1.0, 0, 2.0, 0, 0, 3.0, 0, 0, 0],
    [0, 1.0, 0, 0, 0, 0, 0, 0, 0, 0, 0, 0, 0, 0, 0, 0, 0, 0, 0, 0, 0.5, 0, 0, 0, 1.5, 0, 0, 0, 0, 4.0, 0, 0],
    [0, 0.5, 0, 0, 0, 0, 0, 0, 0, 0, 0, 0, 0, 0, 0, 0, 0, 0, 0, 0, 0, 0, 1.0, 0, 0, 0, 2.0, 0, 0, 0, 0, 1.0],
    [0, 1.5, 0, 0, 0, 0, 0, 0, 0, 0, 0, 0, 0, 0, 0, 0, 0, 0, 0, 0, 0, 0, 0, 0, 0, 2.0, 0, 1.0, 0, 0, 0, 0],
    [0, 1.0, 0, 0, 0, 0, 0, 0, 0, 0, 0, 0, 0, 0, 0, 0, 0, 0, 0, 0, 0, 0, 0, 0, 3.0, 0, 0, 0, 0, 2.0, 0, 0],
    [0, 2.0, 0, 0, 0, 0, 0, 0, 0, 0, 0, 0, 0, 0, 0, 0, 0, 0, 0, 0, 0, 0, 0, 0, 0, 0, 0, 0, 0, 0, 10.0, 0],
    [0, 1.0, 0, 0, 0, 0, 0, 0, 0, 0, 0, 0, 0, 0, 0, 0, 0, 0, 0, 0, 0, 3.5, 0, 0, 0, 0, 0, 0, 0.5, 0, 0, 2.0],
    [0, 0.5, 0, 0, 0, 0, 0, 0, 0, 0, 0, 0, 0, 0, 0, 0, 0, 0, 0, 0, 0, 0, 0, 1.0, 0, 0, 4.0, 0, 0, 0, 0, 0],
    [0, 1.5, 0, 0, 0, 0, 0, 0, 0, 0, 0, 0, 0, 0, 0, 2.8, 0, 0, 0, 0, 0, 0, 0, 0, 0, 0, 0, 0, 0, 12.0, 14.0, 4.0],
    [0, 1.0, 0, 0, 0, 0, 0, 0, 0, 0, 0, 0, 0, 0, 0, 0, 0, 0, 0, 0, 0, 0, 0, 0, 0, 0, 5.0, 0, 0, 0, 0, 0],
    [0, 0.5, 0, 0, 0, 0, 0, 0, 0, 0, 0, 0, 0, 0, 0, 0, 0, 0, 0, 0, 0, 0, 0, 0, 0.5, 0, 0, 0, 2.0, 0, 0, 0],
    [0, 1.0, 0, 0, 0, 0, 0, 0, 0, 0, 0, 0, 0, 0, 0, 0, 0, 0, 0, 0, 0, 0, 0, 6.0, 0, 0, 0, 0, 0, 0, 0, 0],
    [0, 3.0, 0, 0, 0, 0, 0, 0, 0, 0, 0, 0, 0, 0, 0, 0, 0, 0, 0, 0, 0, 0, 0, 0, 0, 0, 0, 0, 0, 0, 7.0, 0],
    [0, 1.0, 0, 0, 0, 0, 0, 0, 0, 0, 0, 0, 0, 0, 0, 0, 0, 0, 0, 0, 0, 0, 0, 3.0, 0, 0, 0, 0, 0, 5.0, 0, 0],
    [0, 0.5, 0, 0, 0, 0, 0, 0, 0, 0, 0, 0, 0, 0, 0, 0, 0, 0, 3.0, 0, 0, 0, 0, 0, 0, 0, 0, 0, 0, 0, 0, 0],
    [0, 1.0, 0, 0, 0, 0, 0, 0, 0, 0, 0, 0, 0, 0, 0, 0, 0, 0, 0, 0, 0, 0, 0, 0, 0, 0, 0.5, 0, 0, 0, 3.0, 0],
    [0, 4.0, 0, 0, 0, 0, 0, 0, 0, 0, 0, 0, 0, 0, 0, 0, 0, 0, 0, 0, 0, 2.0, 13.0, 0, 0, 0, 0, 0, 0, 0, 0, 0],
    [0, 1.0, 0, 0, 0, 0, 0, 0, 0, 0, 0, 0, 0, 0, 0, 0, 0, 0, 0, 0, 0, 0, 0, 0, 0, 0, 0, 1.0, 0, 0, 0, 4.0],
    [0, 2.0, 0, 0, 0, 0, 0, 0, 0, 0, 0, 0, 0, 0, 0, 0, 0, 0, 0, 0, 0, 0, 0, 0, 0, 0, 0, 0, 0, 18.6, 0, 0],
    [0, 1.0, 0, 0, 0, 0, 0, 0, 0, 0, 0, 0, 0, 0, 0, 0, 0, 0, 0, 0, 0, 0, 0, 0, 1.0, 0, 0, 0, 0, 0, 0, 0],
    [0, 0.5, 0, 0, 0, 0, 0, 0, 0, 0, 0, 0, 0, 0, 0, 0, 0, 0, 0, 0, 0, 0, 0, 0, 0, 0, 0, 0, 0, 0, 2.0, 0],
    [0, 1.0, 0, 0, 0, 0, 0, 0, 0, 0, 0, 0, 0, 0, 0, 0, 0, 0, 0, 0, 0, 0, 0.5, 0, 0, 0, 0, 0, 0, 1.0, 0, 0],
    [0, 1.5, 0, 0, 0, 0, 0, 0, 0, 0, 0, 0, 0, 0, 0, 0, 0, 0, 0, 0, 0, 0, 0, 0, 0, 0, 0, 0, 0, 0, 0, 1.0],
    [0, 2.5, 0, 0, 0, 0, 0, 0, 0, 0, 0, 0, 0, 0, 0, 0, 0, 0, 0, 0, 0, 0, 0, 0, 0, 0, 1.0, 0, 0, 0, 0, 0],
]

member_colors = [
    "#d4a0a0", "#d8a0e0", "#e07a8a", "#a0522d", "#a8d8f0", "#8060c0", "#c8c820", "#e0b040",
    "#70b070", "#20c060", "#d04070", "#c020c0", "#e03060", "#a0a0e0", "#d0b080", "#2060c0",
    "#d0d060", "#b0e060", "#60a0d0", "#60e0f0", "#d04020", "#a0d0a0", "#c040c0", "#206050",
    "#c00020",
    "#c09080", "#802080", "#803050", "#704020", "#205090", "#40a080", "#20e0e0", "#8020e0",
    "#a0c080", "#40c040", "#b0e0a0", "#705020", "#e06060", "#202080", "#40c040", "#a0d8c0",
    "#a02040", "#e080c0", "#6090c0", "#a030c0", "#30e0a0", "#d0e8a0", "#3090a0", "#608030",
    "#8050e0",
]

PR_OFFSET = -45  # precipitation zero sits on -45 of the temperature scale

# ---------------- figure ----------------
fig = plt.figure(figsize=(6.4, 6.05), dpi=100)
fig.patch.set_facecolor("white")
ax = fig.add_axes([44 / W, 1 - 518 / H, (597 - 44) / W, 518 / H])
ymin, ymax = (200 - 518) / 6.02, 200 / 6.02
ax.set_xlim(0, 360)
ax.set_ylim(ymin, ymax)

for v in range(-50, 35, 5):
    if v == 0:
        ax.axhline(v, color="#a8a8a8", lw=2.4, zorder=0)
    elif v % 10 == 0:
        ax.axhline(v, color="#b8b8b8", lw=1.5, zorder=0)
    else:
        ax.axhline(v, color="#d6d6d6", lw=1.0, zorder=0)
for dh in day_hours:
    ax.axvline(dh, color="#d4d4d4", lw=1.1, zorder=0)

for i in range(50):
    c = member_colors[i]
    ax.plot(hours12, t850_members[i], color=c, lw=0.8, marker="s", ms=1.3, zorder=2)
    ax.plot(hours12, t500_members[i], color=c, lw=0.8, marker="s", ms=1.3, zorder=2)
    ax.plot(p_hours, [p + PR_OFFSET for p in pr_members[i]], color=c, lw=0.8,
            marker="s", ms=1.3, zorder=2)

ax.plot(hours6, t850_ctrl, color="black", lw=2.2, zorder=3)
ax.plot(hours6, t500_ctrl, color="black", lw=2.2, zorder=3)
ax.plot(hours6, [p + PR_OFFSET for p in pr_ctrl], color="black", lw=2.2, zorder=3)
ax.plot(hours6, t850_mean, color="#ff0000", lw=3.2, zorder=4)
ax.plot(hours6, t500_mean, color="#ff0000", lw=3.2, zorder=4)
ax.plot(hours6, [p + PR_OFFSET for p in pr_mean], color="#ff0000", lw=3.2, zorder=4)

for side in ["left", "right", "bottom"]:
    ax.spines[side].set_color("#333333")
    ax.spines[side].set_linewidth(1.4)
ax.spines["top"].set_visible(False)

left_ticks = list(range(-45, 31, 5))
ax.set_yticks(left_ticks)
ax.set_yticklabels([str(t) for t in left_ticks])
ax.tick_params(axis="y", length=0, pad=12, labelsize=6.5, labelcolor="#222222")
ax.set_xticks([])

ax2 = ax.twinx()
ax2.set_ylim(ymin + 45, ymax + 45)
right_ticks = list(range(0, 76, 5))
ax2.set_yticks(right_ticks)
ax2.set_yticklabels([str(t) for t in right_ticks])
ax2.tick_params(axis="y", length=0, pad=12, labelsize=6.5, labelcolor="#222222")
for s in ax2.spines.values():
    s.set_visible(False)

mono = "DejaVu Sans Mono"
trans = mtrans.blended_transform_factory(ax.transData, ax.transAxes)
for dh, lab in zip(day_hours, day_labels):
    ax.text(dh + 5.5 / 1.536, -0.005, lab, transform=trans, rotation=90, ha="center",
            va="top", fontsize=6.3, family=mono, color="#222222")


def fx(x):
    return x / W


def fy(y):
    return 1 - y / H


fig.text(fx(52), fy(99), "Temp. 850hPa", fontsize=6.3, family=mono, va="center")
fig.text(fx(52), fy(257), "Temp. 500hPa", fontsize=6.3, family=mono, va="center")
fig.text(fx(52), fy(427), "Précipitations", fontsize=6.3, family=mono, va="center")
fig.text(fx(27), fy(525), "(°C)", fontsize=6.3, family=mono, ha="center", va="center")
fig.text(fx(624), fy(525), "(mm)", fontsize=6.3, family=mono, ha="center", va="center")

fig.add_artist(Line2D([fx(31), fx(57)], [fy(553), fy(553)], color="#ff0000", lw=3.5))
fig.text(fx(64), fy(553), "Moyenne des scénarios", fontsize=6.3, family=mono, va="center")
fig.add_artist(Line2D([fx(195), fx(222)], [fy(553), fy(553)], color="black", lw=3.0))
fig.text(fx(229), fy(553), "Contrôle/Det", fontsize=6.3, family=mono, va="center")
fig.text(fx(367), fy(564), "50 Perts.", fontsize=6.3, family=mono, ha="right", va="center")

sw = 9.5
for i in range(25):
    x0 = 372 + i * sw
    fig.add_artist(Rectangle((fx(x0), fy(563)), sw / W, 6 / H, transform=fig.transFigure,
                             facecolor=member_colors[i], edgecolor="none"))
    fig.add_artist(Rectangle((fx(x0), fy(569)), sw / W, 6 / H, transform=fig.transFigure,
                             facecolor=member_colors[25 + i], edgecolor="none"))
    fig.text(fx(x0 + sw / 2), fy(552.5), f"{i + 1:02d}", fontsize=4.6, family=mono,
             weight="bold", ha="center", va="center")
    fig.text(fx(x0 + sw / 2), fy(573.5), f"{i + 26:02d}", fontsize=4.6, family=mono,
             weight="bold", ha="center", va="center")

fig.add_artist(Rectangle((fx(17), fy(604)), (383 - 17) / W, (604 - 577) / H,
                         transform=fig.transFigure, fill=False, edgecolor="black", lw=1.0))
fig.text(fx(27), fy(586), "Diagramme ensembles ECMWF/CEP 0.25° sur 360h : 55N 21E",
         fontsize=7.1, family=mono, weight="bold", va="center")
fig.text(fx(27), fy(598.5), "Températures 850hPa et 500hPa (°C) , précipitations (mm)",
         fontsize=6.3, family=mono, va="center")
fig.text(fx(390), fy(584), "Ensemble ECMWF/CEP du 21/06/2026 - 12Z", fontsize=6.3,
         family=mono, va="center")
fig.text(fx(390), fy(598), "Copyright 2026 Meteociel.fr - ECMWF", fontsize=7.2,
         family=mono, weight="bold", va="center")

fig.savefig("out.png", dpi=100)
